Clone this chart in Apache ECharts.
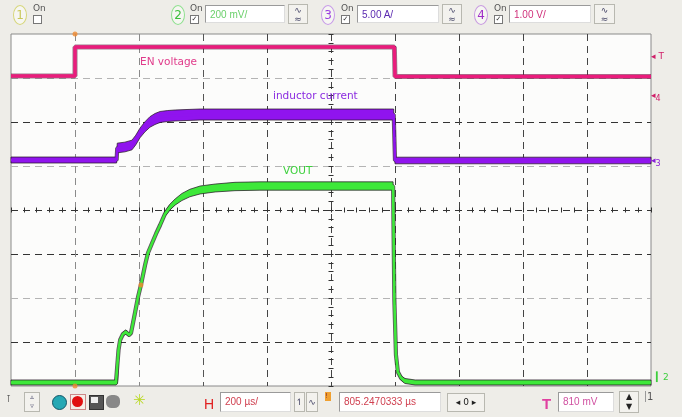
<!DOCTYPE html>
<html><head><meta charset="utf-8">
<script src="https://cdn.jsdelivr.net/npm/echarts@6/dist/echarts.min.js"></script>
<style>
html,body{margin:0;padding:0;background:#eeede8;}
#wrap{position:relative;width:682px;height:417px;overflow:hidden;background:#eeede8;font-family:"DejaVu Sans",sans-serif;}
#chart{position:absolute;left:0;top:0;width:682px;height:417px;}
.ov{position:absolute;z-index:5;white-space:nowrap;}
.circ{position:absolute;z-index:5;width:12px;height:18px;border-radius:50%;border:1.5px solid;font-size:12px;line-height:18px;text-align:center;background:#f6f6f2;}
.on{position:absolute;z-index:5;font-size:9px;color:#555;line-height:9px;}
.chk{display:block;width:7px;height:7px;border:1px solid #777;background:#fff;margin-top:2px;font-size:7px;line-height:7px;text-align:center;color:#333;}
.box{position:absolute;z-index:5;height:18px;background:#fff;border:1px solid #9a9a9a;border-right-color:#ddd;border-bottom-color:#ddd;font-size:10px;line-height:18px;padding-left:4px;box-sizing:border-box;font-family:"Liberation Sans",sans-serif;}
.btn{position:absolute;z-index:5;background:#f3f2ee;border:1px solid #b8b8b0;box-sizing:border-box;font-size:9px;color:#446;text-align:center;line-height:9px;}
.mk{position:absolute;z-index:5;font-size:9px;font-family:"DejaVu Sans",sans-serif;}
</style></head>
<body>
<div id="wrap">
<div id="chart"></div>

<!-- top toolbar -->
<div class="circ" style="left:13px;top:5px;border-color:#d6d67a;color:#c8c85a;">1</div>
<div class="on" style="left:33px;top:4px;">On<span class="chk"></span></div>
<div class="circ" style="left:171px;top:5px;border-color:#8ee08e;color:#3cbf3c;">2</div>
<div class="on" style="left:190px;top:4px;">On<span class="chk">✓</span></div>
<div class="box" style="left:205px;top:5px;width:80px;color:#6bd06b;">200 mV/</div>
<div class="btn" style="left:288px;top:4px;width:20px;height:20px;padding-top:1px;">∿<br>≈</div>
<div class="circ" style="left:321px;top:5px;border-color:#c79ae8;color:#9b3fe0;">3</div>
<div class="on" style="left:341px;top:4px;">On<span class="chk">✓</span></div>
<div class="box" style="left:357px;top:5px;width:82px;color:#5b2ab0;">5.00 A/</div>
<div class="btn" style="left:442px;top:4px;width:20px;height:20px;padding-top:1px;">∿<br>≈</div>
<div class="circ" style="left:474px;top:5px;border-color:#c89ae0;color:#a02cc8;">4</div>
<div class="on" style="left:494px;top:4px;">On<span class="chk">✓</span></div>
<div class="box" style="left:509px;top:5px;width:82px;color:#d0307a;">1.00 V/</div>
<div class="btn" style="left:594px;top:4px;width:21px;height:20px;padding-top:1px;">∿<br>≈</div>

<!-- right side channel markers -->
<div class="mk" style="left:651px;top:51px;color:#d0206a;">◂ T</div>
<div class="mk" style="left:651px;top:90px;color:#d0206a;">◂<sub style="font-size:8px">4</sub></div>
<div class="mk" style="left:651px;top:155px;color:#8a20d8;">◂<sub style="font-size:8px">3</sub></div>
<div class="mk" style="left:656px;top:372px;color:#3ccf3c;">▎2</div>

<!-- bottom toolbar -->
<div class="ov" style="left:6px;top:393px;font-size:10px;color:#444;">⊺</div>
<div class="btn" style="left:24px;top:392px;width:16px;height:20px;font-size:7px;line-height:9px;">▵<br>▿</div>
<div class="ov" style="left:52px;top:395px;width:13px;height:13px;border-radius:50%;background:#25a8b4;border:1px solid #156;"></div>
<div class="ov" style="left:70px;top:394px;width:14px;height:14px;border:1px solid #c88;background:#f4efe8;"></div>
<div class="ov" style="left:72px;top:396px;width:11px;height:11px;border-radius:50%;background:#e01010;"></div>
<div class="ov" style="left:89px;top:395px;width:13px;height:13px;background:#555;border:1px solid #333;"></div>
<div class="ov" style="left:91px;top:397px;width:7px;height:6px;background:#eee;"></div>
<div class="ov" style="left:106px;top:395px;width:14px;height:13px;border-radius:40%;background:#888;"></div>
<div class="ov" style="left:133px;top:391px;font-size:15px;color:#b8d820;">✳</div>
<div class="ov" style="left:204px;top:396px;font-size:14px;color:#e02020;font-family:'Liberation Sans',sans-serif;">H</div>
<div class="box" style="left:220px;top:392px;width:71px;height:20px;color:#d04050;">200 µs/</div>
<div class="btn" style="left:294px;top:392px;width:11px;height:20px;line-height:18px;">↿</div>
<div class="btn" style="left:306px;top:392px;width:12px;height:20px;line-height:18px;">∿</div>
<div class="ov" style="left:325px;top:392px;width:6px;height:9px;background:#f0a030;font-size:7px;line-height:9px;color:#833;">!</div>
<div class="box" style="left:339px;top:392px;width:102px;height:20px;color:#d04050;">805.2470333 µs</div>
<div class="btn" style="left:447px;top:393px;width:38px;height:19px;line-height:17px;font-size:9px;color:#222;">◂ 0 ▸</div>
<div class="ov" style="left:542px;top:395px;font-size:15px;color:#e040a0;font-family:'Liberation Sans',sans-serif;font-weight:bold;">T</div>
<div class="box" style="left:558px;top:392px;width:56px;height:20px;color:#d050a0;">810 mV</div>
<div class="btn" style="left:619px;top:391px;width:20px;height:22px;font-size:8px;line-height:10px;color:#222;">▲<br>▼</div>
<div class="ov" style="left:645px;top:391px;font-size:10px;color:#555;border-left:1px solid #999;padding-left:1px;">1</div>
</div>

<script>
// ---- scope settings (horizontal: µs, vertical: divisions) ----
const timeMin = 0, timeMax = 2000, timeStep = 200;     // 200 µs/div, 10 div
const divMin = 0, divMax = 8, divStep = 1;              // 8 vertical divisions

// ---- channel 4: EN voltage (divisions) ----
const enTime  = [0,     200,   200,   1198,  1200,  2000];
const enLevel = [7.045, 7.045, 7.705, 7.705, 7.034, 7.034];

// ---- channel 3: inductor current (centre level + half trace thickness, divisions) ----
const curTime   = [0,     330,   332,   356,   378,   390,   403,  418,   434,  450,   466,   490,   513,   550,   591,   750,   1196,  1200,  2000];
const curLevel  = [5.136, 5.136, 5.409, 5.432, 5.477, 5.591, 5.75, 5.886, 6.0,  6.068, 6.114, 6.136, 6.148, 6.159, 6.170, 6.170, 6.170, 5.125, 5.125];
const curSpread = [0.068, 0.068, 0.11,  0.11,  0.11,  0.11,  0.11, 0.115, 0.12, 0.125, 0.125, 0.125, 0.125, 0.125, 0.125, 0.125, 0.125, 0.075, 0.075];

// ---- channel 2: VOUT (centre level + half trace thickness, divisions) ----
const voutTime   = [0,     328,   333,   336,   341,   350,   359,   369,   375,   388,   397,   406,   419,  428,   441,  453,   466,   481,   497,   513,   534,   559,   591,   638,  700,   778,   1194,  1198,  1203,  1209,  1219,  1231,  1263,  2000];
const voutLevel  = [0.080, 0.080, 0.091, 0.818, 1.045, 1.182, 1.227, 1.159, 1.205, 1.682, 2.023, 2.295, 2.75, 3.023, 3.25, 3.455, 3.659, 3.909, 4.068, 4.182, 4.295, 4.386, 4.455, 4.5,  4.534, 4.545, 4.545, 1.955, 0.705, 0.318, 0.182, 0.114, 0.080, 0.080];
const voutSpread = [0.057, 0.057, 0.04,  0.03,  0.03,  0.04,  0.05,  0.04,  0.04,  0.03,  0.03,  0.03,  0.03, 0.03,  0.035,0.04,  0.045, 0.055, 0.065, 0.07,  0.08,  0.085, 0.09,  0.09, 0.095, 0.095, 0.095, 0.03,  0.03,  0.04,  0.05,  0.057, 0.057, 0.057];

// ---- trigger markers ----
const triggerTime = 200;                  // trigger position
const triggerPoint = [406, 2.295];        // trigger crossing on VOUT (810 mV)

// ---- trace labels ----
const traceLabels = ['EN voltage', 'inductor current', 'VOUT'];

const PINK = '#ea1c7c', PURPLE = '#9014ee', GREEN = '#3ee83a', EDGE = '#2a1a2a';

function pts(t, v) { return t.map((x, i) => [x, v[i]]); }

function band(name, t, c, s, color) {
  return [
    { name: name + '-under', type: 'line', data: pts(t, c), symbol: 'none', silent: true,
      lineStyle: { color: EDGE, width: 4.2, opacity: 0.75 }, z: 2 },
    { name: name + '-band', type: 'custom', silent: true, z: 3,
      data: [[t[0], c[0]]],
      renderItem: function (params, api) {
        const top = t.map((x, i) => api.coord([x, c[i] + s[i]]));
        const bot = t.map((x, i) => api.coord([x, c[i] - s[i]])).reverse();
        return { type: 'polygon', shape: { points: top.concat(bot) },
          style: { fill: color, stroke: 'rgba(42,26,42,0.75)', lineWidth: 1 } };
      } },
    { name: name, type: 'line', data: pts(t, c), symbol: 'none', silent: true,
      lineStyle: { color: color, width: 2.6 }, z: 4 }
  ];
}

// split line tones (inner lines only, bottom→top / left→right)
const vLineColors = ['#8a8a8a', '#8a8a8a', '#555', '#444', '#444', '#444', '#444', '#444', '#444'];
const hLineColors = ['#333', '#b4b4b4', '#333', '#333', '#b4b4b4', '#333', '#b4b4b4'];

const chart = echarts.init(document.getElementById('chart'), null, { renderer: 'canvas' });
const centerAxisCommon = {
  type: 'value', axisLabel: { show: false }, splitLine: { show: false },
  axisLine: { show: false }
};
chart.setOption({
  animation: false,
  backgroundColor: '#eeede8',
  grid: { left: 11, top: 34, width: 640, height: 352, show: true, backgroundColor: '#fcfcfb', borderColor: '#8a8a8a', borderWidth: 1 },
  xAxis: [
    { type: 'value', min: timeMin, max: timeMax, interval: timeStep,
      axisLine: { show: false }, axisTick: { show: false }, axisLabel: { show: false },
      splitLine: { show: true, showMinLine: false, showMaxLine: false, lineStyle: { type: [7, 5], color: vLineColors, width: 1 } } },
    Object.assign({}, centerAxisCommon, { min: timeMin, max: timeMax, interval: timeStep, position: 'bottom', offset: -176,
      axisTick: { show: true, inside: true, length: 2.5, lineStyle: { color: '#333' } },
      minorTick: { show: true, splitNumber: 5, length: 2.5, lineStyle: { color: '#333' } } }),
    Object.assign({}, centerAxisCommon, { min: timeMin, max: timeMax, interval: timeStep, position: 'bottom', offset: -176,
      axisTick: { show: true, inside: false, length: 2.5, lineStyle: { color: '#333' } },
      minorTick: { show: true, splitNumber: 5, length: 2.5, lineStyle: { color: '#333' } } })
  ],
  yAxis: [
    { type: 'value', min: divMin, max: divMax, interval: divStep,
      axisLine: { show: false }, axisTick: { show: false }, axisLabel: { show: false },
      splitLine: { show: true, showMinLine: false, showMaxLine: false, lineStyle: { type: [7, 5], color: hLineColors, width: 1 } } },
    Object.assign({}, centerAxisCommon, { min: divMin, max: divMax, interval: divStep, position: 'left', offset: -320,
      axisTick: { show: true, inside: true, length: 2.5, lineStyle: { color: '#333' } },
      minorTick: { show: true, splitNumber: 5, length: 2.5, lineStyle: { color: '#333' } } }),
    Object.assign({}, centerAxisCommon, { min: divMin, max: divMax, interval: divStep, position: 'left', offset: -320,
      axisTick: { show: true, inside: false, length: 2.5, lineStyle: { color: '#333' } },
      minorTick: { show: true, splitNumber: 5, length: 2.5, lineStyle: { color: '#333' } } })
  ],
  series: [
    { name: 'EN-under', type: 'line', data: pts(enTime, enLevel), symbol: 'none', silent: true,
      lineStyle: { color: '#4a1030', width: 5, opacity: 0.55 }, z: 2 },
    { name: 'EN voltage', type: 'line', data: pts(enTime, enLevel), symbol: 'none', silent: true,
      lineStyle: { color: PINK, width: 3.4 }, z: 4 },
    ...band('inductor current', curTime, curLevel, curSpread, PURPLE),
    ...band('VOUT', voutTime, voutLevel, voutSpread, GREEN),
    { name: 'trigger', type: 'scatter', silent: true, clip: false, z: 6,
      data: [[triggerTime, divMax], [triggerTime, divMin], triggerPoint],
      symbol: 'circle', symbolSize: 5, itemStyle: { color: '#f08a30' } }
  ],
  graphic: [
    { type: 'text', left: 140, top: 57, z: 10, style: { text: traceLabels[0], fill: '#e03a8a', font: '10.5px "DejaVu Sans"' } },
    { type: 'text', left: 273, top: 91, z: 10, style: { text: traceLabels[1], fill: '#8a2ae0', font: '10.5px "DejaVu Sans"' } },
    { type: 'text', left: 283, top: 166, z: 10, style: { text: traceLabels[2], fill: '#3cd03c', font: '10.5px "DejaVu Sans"' } }
  ]
});
</script>
</body></html>
